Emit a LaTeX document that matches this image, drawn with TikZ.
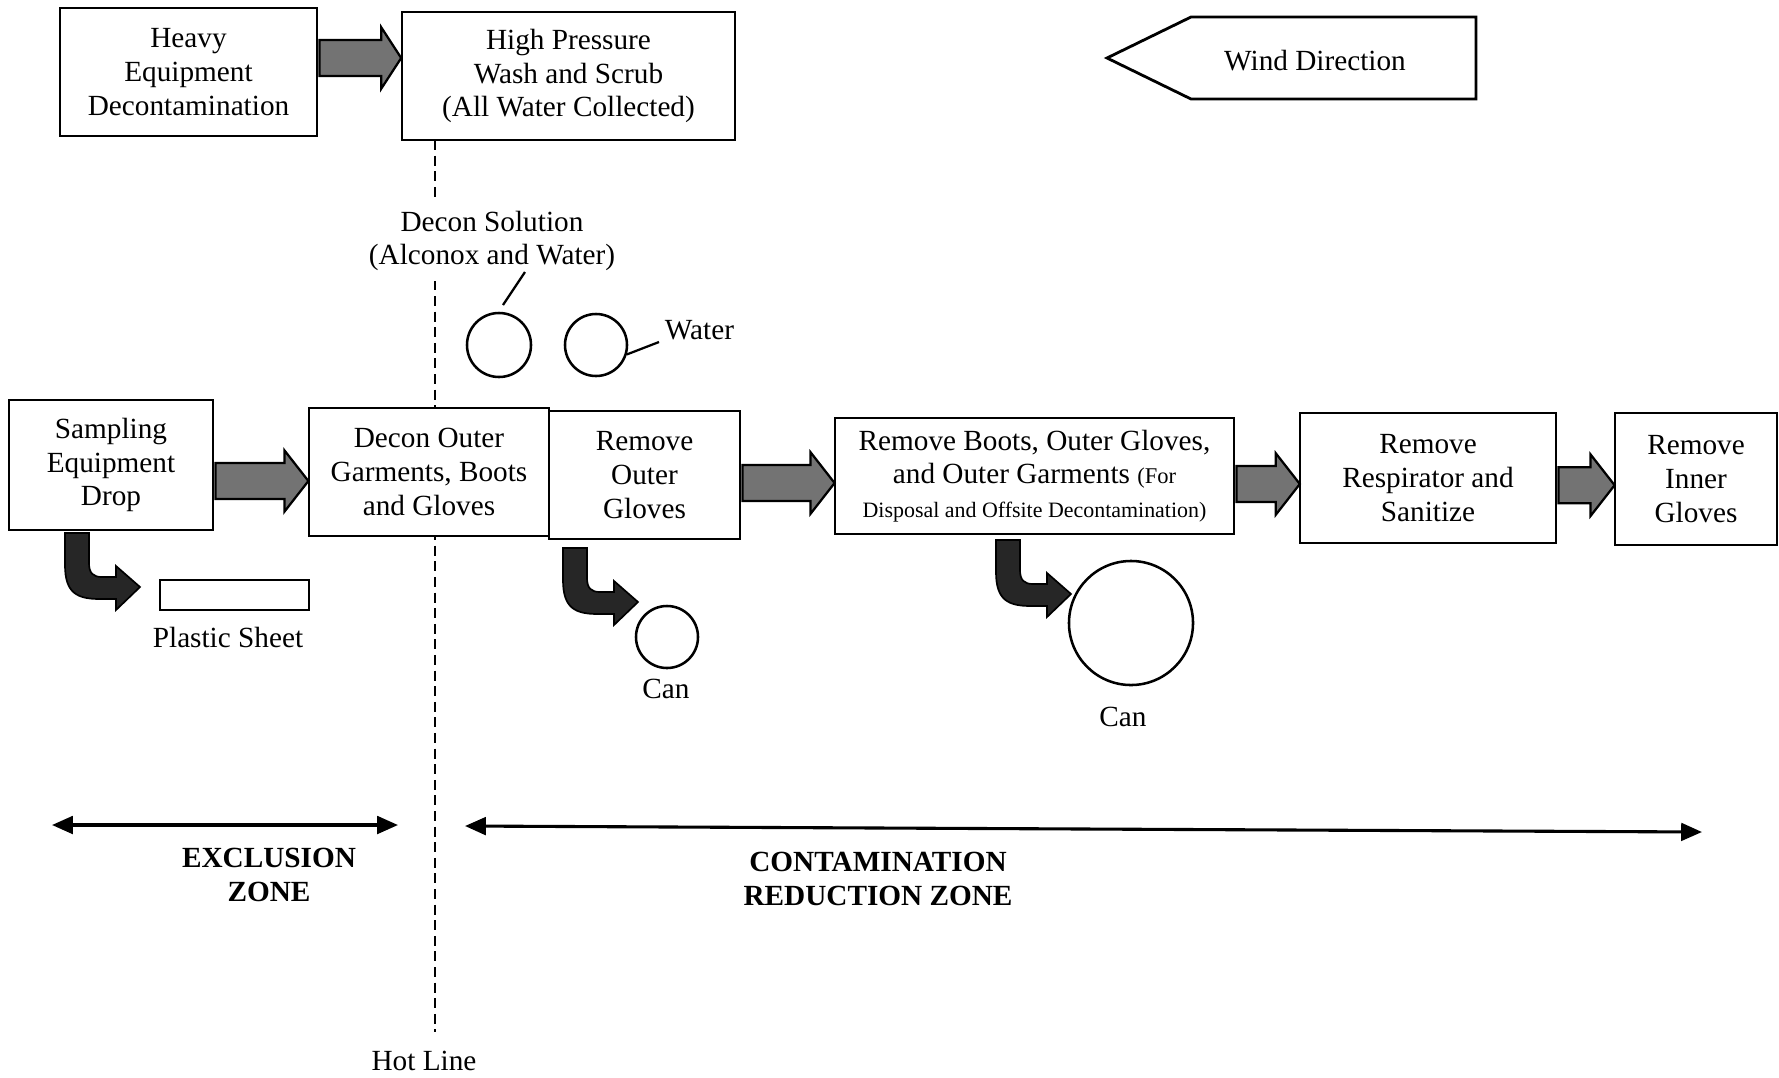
\documentclass[tikz,border=0pt]{standalone}
\usepackage{fontspec}
\setmainfont{Liberation Serif}
\usetikzlibrary{shapes.arrows,arrows.meta,calc}
\begin{document}
\begin{tikzpicture}[x=0.0125cm, y=-0.0125cm, font=\fontsize{10.4}{12}\selectfont,
  box/.style = {draw, fill=white, line width=1pt, align=center, inner sep=2pt},
  fatarrow/.style = {draw, line width=0.8pt, fill=black!55, single arrow, single arrow head extend=0.16cm, single arrow head indent=0pt, inner xsep=0pt, inner ysep=0.21cm, single arrow tip angle=104, anchor=tail},
  can/.style = {draw, line width=0.9pt, circle, inner sep=0pt},
  zone/.style = {line width=1.1pt, {Triangle[length=0.26cm, width=0.22cm]}-{Triangle[length=0.26cm, width=0.22cm]}},
  bendarrow/.pic = {\filldraw[fill=black!85, draw=black, line width=0.6pt] (0,0) -- (0,32) .. controls (0,60) and (12,66) .. (35,66) -- (51,66) -- (51,77) -- (75,54) -- (51,33) -- (51,44) -- (37,44) .. controls (28,44) and (24,40) .. (24,30) -- (24,0) -- cycle;}]
  \useasboundingbox (0,0) rectangle (1779,1077);
  % hot line
  \coordinate (hltop) at (435,140);
  \coordinate (hlbot) at (435,1032);
  \draw[line width=0.7pt, dash pattern=on 0.125cm off 0.07cm] (hltop) -- (hlbot);
  \node (hot) at (424,1061) {Hot Line};
  % top row
  \node[box, minimum width=3.2125cm, minimum height=1.6cm] (heq) at (188.5,72) {Heavy\\Equipment\\Decontamination};
  \node[box, minimum width=4.1625cm, minimum height=1.6cm] (hpw) at (568.5,76) {High Pressure\\Wash and Scrub\\(All Water Collected)};
  \node[fatarrow, single arrow tip angle=114, minimum height=1.02cm, yshift=0.175cm] (a0) at (heq.east) {};
  \node (wind) at (1315,61) {Wind Direction};
  \draw[line width=1pt] (1476,17) -- (1191,17) -- (1107,58) -- (1191,99) -- (1476,99) -- cycle;
  % decon solution and water
  \node[fill=white, align=center] (dsol) at (492,241) {Decon Solution\\(Alconox and Water)};
  \node[can, minimum size=0.8cm] (c1) at (499,345) {};
  \node[can, minimum size=0.775cm] (c2) at (596,345) {};
  \node[anchor=west] (water) at (655,330) {Water};
  \coordinate (l1a) at (525,272);
  \coordinate (l1b) at (503,305);
  \draw[line width=0.8pt] (l1a) -- (l1b);
  \coordinate (l2b) at (659,342);
  \draw[line width=0.8pt] (c2.-17) -- (l2b);
  % main row
  \node[box, minimum width=2.55cm, minimum height=1.625cm] (sed) at (111,465) {Sampling\\Equipment\\Drop};
  \node[box, minimum width=3.0cm, minimum height=1.6cm] (dog) at (429,472) {Decon Outer\\Garments, Boots\\and Gloves};
  \node[box, minimum width=2.3875cm, minimum height=1.6cm] (rog) at (644.5,475) {Remove\\Outer\\Gloves};
  \node[box, minimum width=4.9875cm, minimum height=1.45cm] (rbg) at (1034.5,476) {Remove Boots, Outer Gloves,\\and Outer Garments {\fontsize{8}{9}\selectfont(For}\\{\fontsize{7.8}{9}\selectfont Disposal and Offsite Decontamination)}};
  \node[box, minimum width=3.2cm, minimum height=1.625cm] (rrs) at (1428,478) {Remove\\Respirator and\\Sanitize};
  \node[box, minimum width=2.025cm, minimum height=1.65cm] (rig) at (1696,479) {Remove\\Inner\\Gloves};
  \node[fatarrow, minimum height=1.16cm, yshift=-0.2cm] (a1) at (sed.east) {};
  \node[fatarrow, minimum height=1.15cm, yshift=-0.1cm] (a2) at (rog.east) {};
  \node[fatarrow, minimum height=0.79cm, yshift=-0.1cm] (a3) at (rbg.east) {};
  \node[fatarrow, minimum height=0.7cm, yshift=-0.09cm] (a4) at (rrs.east) {};
  % drops
  \pic at (65,533) {bendarrow};
  \pic at (563,548) {bendarrow};
  \pic at (996,540) {bendarrow};
  \node[draw, line width=1pt, minimum width=1.8625cm, minimum height=0.375cm, inner sep=0pt] (sheet) at (234.5,595) {};
  \node (sheetlbl) at (228,637) {Plastic Sheet};
  \node[can, minimum size=0.775cm] (can1) at (667,637) {};
  \node (can1lbl) at (666,689) {Can};
  \node[can, minimum size=1.55cm] (can2) at (1131,623) {};
  \node (can2lbl) at (1123,717) {Can};
  % zones
  \coordinate (exl) at (52,825);
  \coordinate (exr) at (398,825);
  \draw[zone] (exl) -- (exr);
  \node[align=center, font=\fontsize{10.4}{12}\selectfont\bfseries] (exz) at (269,875) {EXCLUSION\\ZONE};
  \coordinate (crl) at (465,826);
  \coordinate (crr) at (1702,832);
  \draw[zone] (crl) -- (crr);
  \node[align=center, font=\fontsize{10.4}{12}\selectfont\bfseries] (crz) at (878,879) {CONTAMINATION\\REDUCTION ZONE};
\end{tikzpicture}
\end{document}
